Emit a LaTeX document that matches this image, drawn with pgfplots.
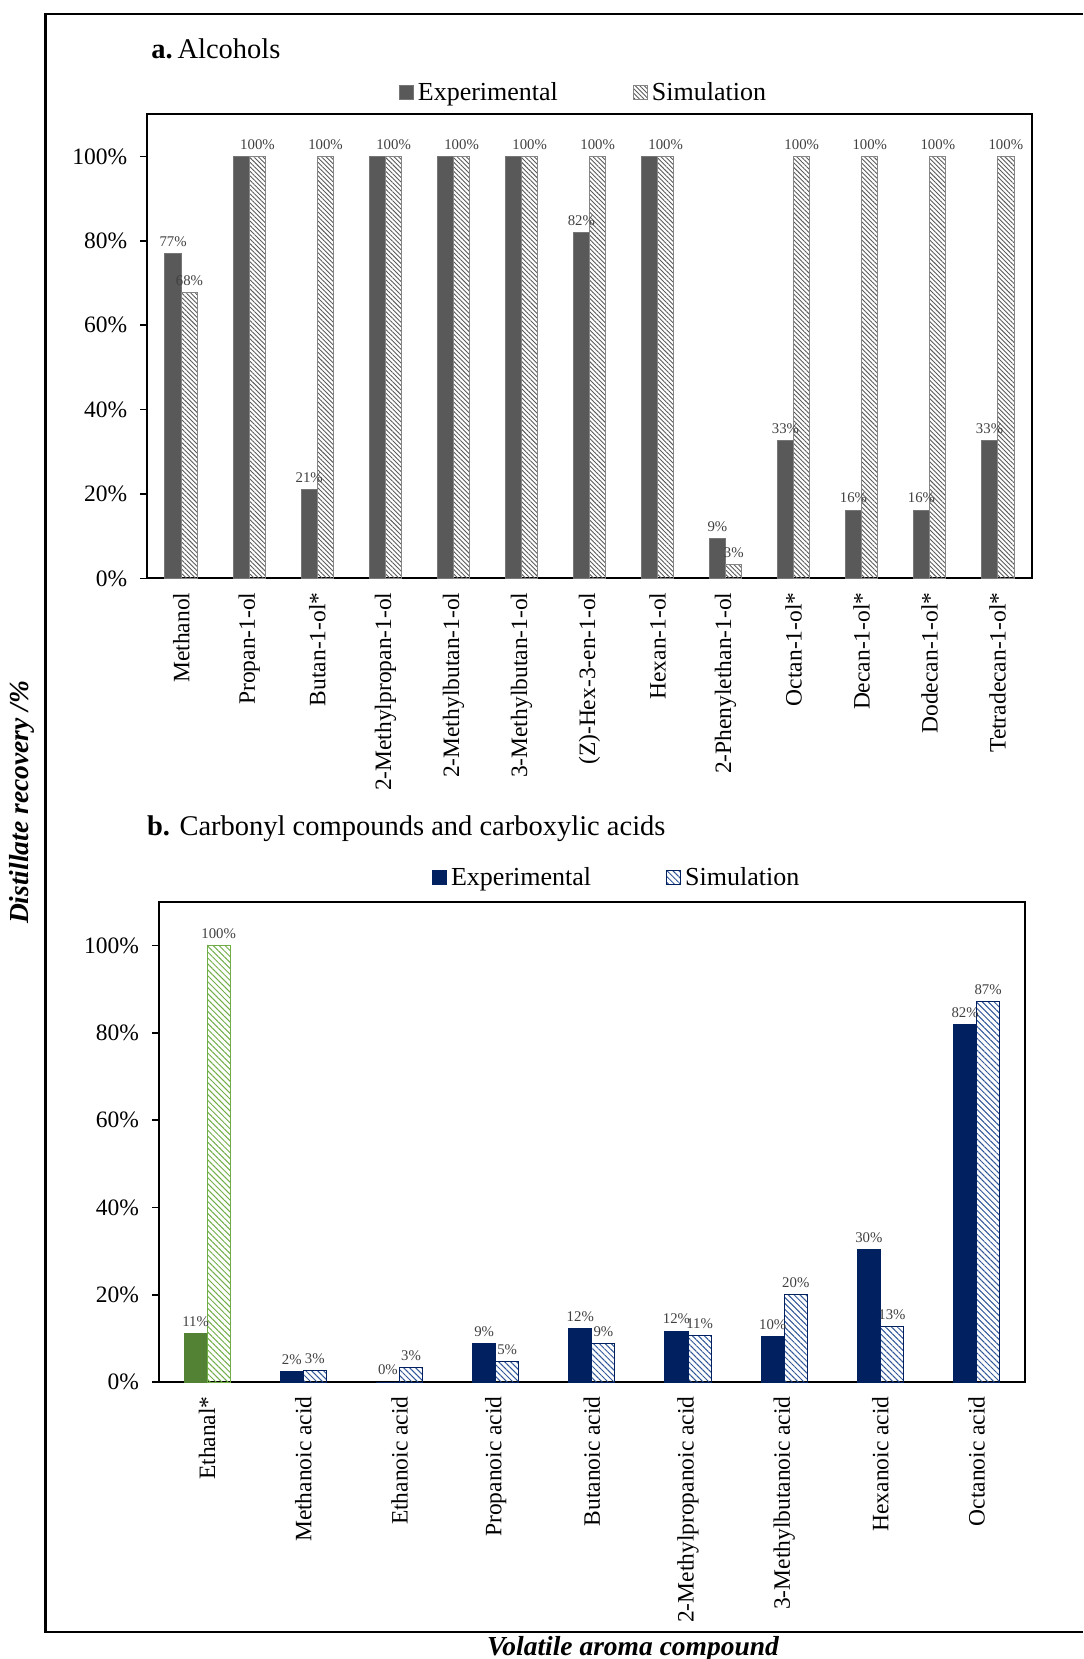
\documentclass[border=0pt]{standalone}
\usepackage{pgfplots}
\pgfplotsset{compat=1.18}
\usepackage{fontspec}
\setmainfont{Liberation Serif}
\usetikzlibrary{patterns.meta}
\definecolor{expA}{HTML}{595959}
\definecolor{expAd}{HTML}{767676}
\definecolor{simAline}{HTML}{5A5A5A}
\definecolor{simAd}{HTML}{858585}
\definecolor{navy}{HTML}{002060}
\definecolor{navyline}{HTML}{2F5597}
\definecolor{grn}{HTML}{548235}
\definecolor{grnl}{HTML}{70AD47}
\definecolor{lbl}{HTML}{404040}
\begin{document}
\begin{tikzpicture}
\path[use as bounding box] (0,0) rectangle (541.5pt,829.5pt);
\draw[line width=1.25pt] (541.5pt,822.5pt) -- (22.75pt,822.5pt) -- (22.75pt,13.5pt) -- (541.5pt,13.5pt);
\pgfplotsset{
  common/.style={
    scale only axis, ybar, ymin=0, ymax=110,
    ytick={0,20,40,60,80,100},
    yticklabels={0\%,20\%,40\%,60\%,80\%,100\%},
    ytick pos=left, xtick pos=bottom, tick align=outside, major tick length=3.5pt,
    axis line style={line width=1pt},
    tick style={black, line width=0.8pt},
    xtick style={draw=none},
    tick label style={font=\fontsize{11.75}{14}\selectfont},
    yticklabel shift=3pt,
    xticklabel shift=0pt,
    xticklabel style={rotate=90, anchor=east},
    /pgf/number format/assume math mode=true,
    legend image code/.code={\draw[##1] (0pt,-3.5pt) rectangle (7pt,3.5pt);},
    nodes near coords style={font=\fontsize{7.4}{9}\selectfont, text=lbl},
    legend style={draw=none, fill=none, inner sep=0pt, legend columns=2,
      font=\fontsize{13}{15}\selectfont, anchor=west,
      /tikz/every odd column/.append style={column sep=0pt},
      /tikz/every even column/.append style={column sep=35.5pt}},
  },
  lab/.style={nodes near coords={\pgfmathprintnumber[fixed,precision=0]{\pgfplotspointmeta}\%}},
}
% ---------- panel a ----------
\begin{axis}[common,
  at={(73.65pt,540.25pt)}, anchor=south west,
  width=442.2pt, height=232.1pt,
  xmin=-0.5, xmax=12.5,
  xtick={0,1,2,3,4,5,6,7,8,9,10,11,12},
  xticklabels={Methanol,Propan-1-ol,Butan-1-ol*,2-Methylpropan-1-ol,2-Methylbutan-1-ol,3-Methylbutan-1-ol,(Z)-Hex-3-en-1-ol,Hexan-1-ol,2-Phenylethan-1-ol,Octan-1-ol*,Decan-1-ol*,Dodecan-1-ol*,Tetradecan-1-ol*},
  legend style={at={(0.284,1.046)}},
  ]
\addplot[fill=expA, draw=expAd, line width=0.5pt, bar width=0.24, bar shift=-0.12, lab]
  coordinates {(0,77.0) (2,21.0) (6,82.0) (8,9.4) (9,32.7) (10,16.2) (11,16.2) (12,32.7)};
\addlegendentry{Experimental}
\addplot[fill=expA, draw=expAd, line width=0.5pt, bar width=0.24, bar shift=-0.12, forget plot]
  coordinates {(1,100) (3,100) (4,100) (5,100) (7,100)};
\addplot[pattern={Lines[angle=-45,distance=1.6pt,line width=0.45pt]}, pattern color=simAline, draw=simAd, line width=0.5pt, bar width=0.24, bar shift=0.12, lab]
  coordinates {(0,67.8) (1,100) (2,100) (3,100) (4,100) (5,100) (6,100) (7,100) (8,3.2) (9,100) (10,100) (11,100) (12,100)};
\addlegendentry{Simulation}
\end{axis}
% ---------- panel b ----------
\begin{axis}[common,
  at={(79.5pt,138.35pt)}, anchor=south west,
  width=432.85pt, height=240.3pt,
  xmin=-0.5, xmax=8.5,
  xtick={0,1,2,3,4,5,6,7,8},
  xticklabels={Ethanal*,Methanoic acid,Ethanoic acid,Propanoic acid,Butanoic acid,2-Methylpropanoic acid,3-Methylbutanoic acid,Hexanoic acid,Octanoic acid},
  legend style={at={(0.315,1.0497)}},
  ]
\addplot[fill=grn, draw=grn, line width=0.5pt, bar width=0.24, bar shift=-0.12, lab, forget plot]
  coordinates {(0,11.2)};
\addplot[fill=navy, draw=navy, line width=0.5pt, bar width=0.24, bar shift=-0.12, lab]
  coordinates {(1,2.4) (2,0) (3,8.8) (4,12.2) (5,11.7) (6,10.4) (7,30.4) (8,81.9)};
\addlegendentry{Experimental}
\addplot[pattern={Lines[angle=-45,distance=2.1pt,line width=0.5pt]}, pattern color=grnl, draw=grnl, line width=0.5pt, bar width=0.24, bar shift=0.12, lab, forget plot]
  coordinates {(0,100)};
\addplot[pattern={Lines[angle=-45,distance=2.1pt,line width=0.5pt]}, pattern color=navyline, draw=navy, line width=0.5pt, bar width=0.24, bar shift=0.12, lab]
  coordinates {(1,2.6) (2,3.4) (3,4.7) (4,8.9) (5,10.7) (6,20.1) (7,12.7) (8,87.1)};
\addlegendentry{Simulation}
\end{axis}
% titles and axis names
\node[anchor=base west, font=\fontsize{14.25}{16}\selectfont] at (72.2pt,800.35pt) {\textbf{a.}\,Alcohols};
\node[anchor=base west, font=\fontsize{14.25}{16}\selectfont] at (70pt,411.75pt) {\textbf{b.} Carbonyl compounds and carboxylic acids};
\node[rotate=90, font=\fontsize{13.75}{16}\selectfont\bfseries\itshape] at (11pt,428.25pt) {Distillate recovery /\%};
\node[anchor=base, font=\fontsize{13.75}{16}\selectfont\bfseries\itshape] at (316.5pt,1.8pt) {Volatile aroma compound};
\end{tikzpicture}
\end{document}
